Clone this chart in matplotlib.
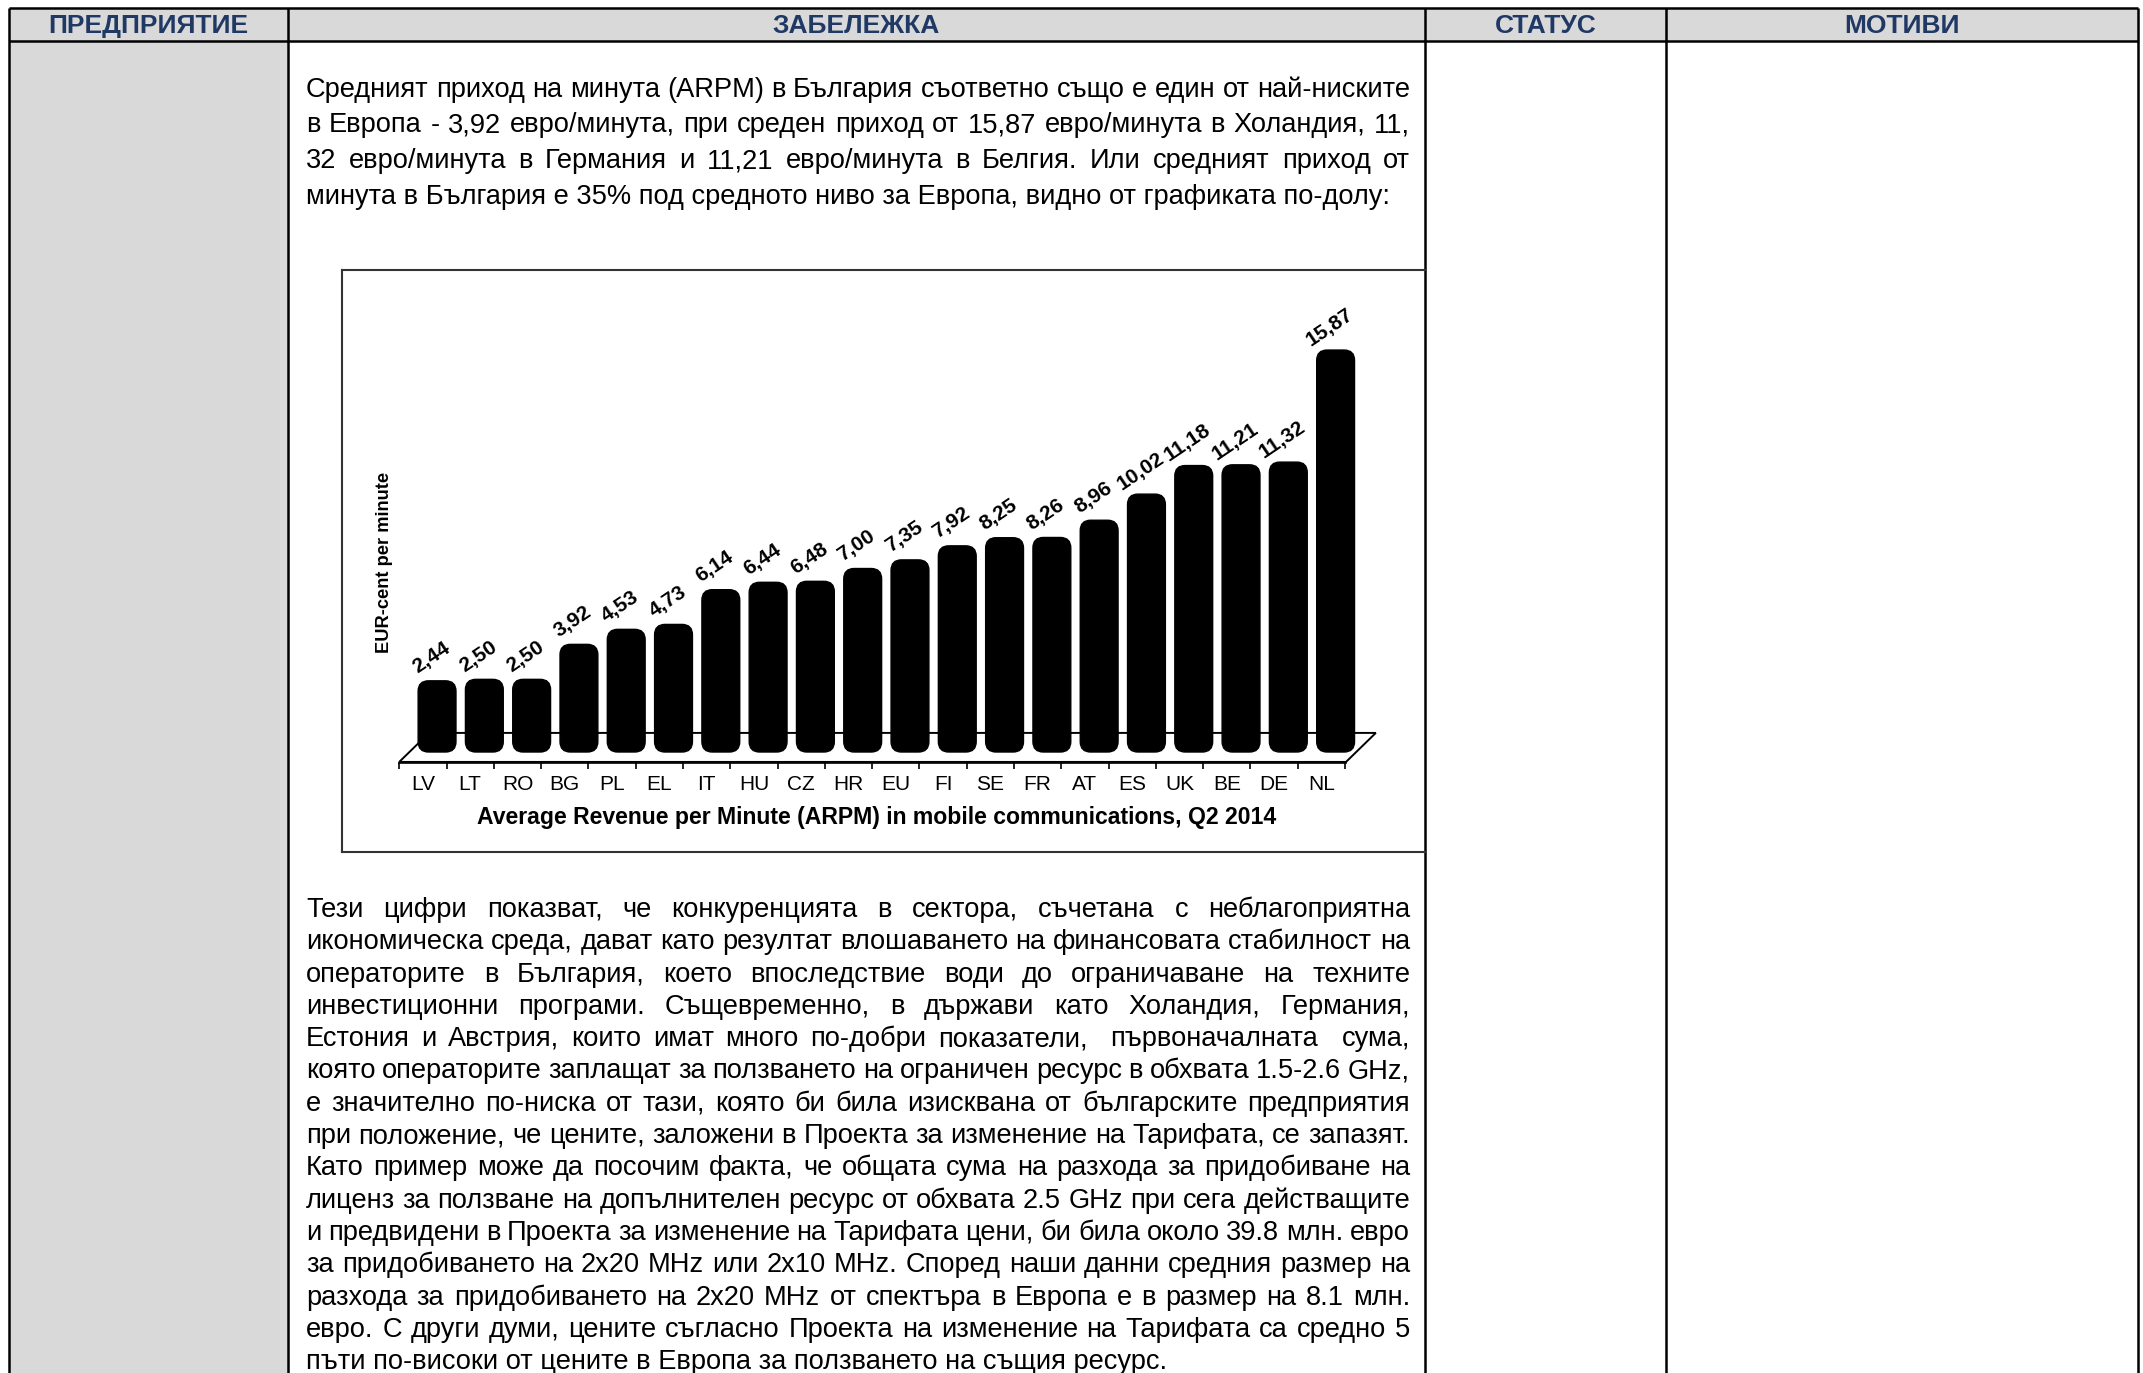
import numpy as np
import matplotlib
matplotlib.use("Agg")
import matplotlib.pyplot as plt
from matplotlib.patches import FancyBboxPatch, Polygon, Rectangle

plt.rcParams['font.family'] = ['Liberation Sans', 'DejaVu Sans']

# ---- data ----
headers = ["ПРЕДПРИЯТИЕ", "ЗАБЕЛЕЖКА", "СТАТУС", "МОТИВИ"]

countries = ["LV", "LT", "RO", "BG", "PL", "EL", "IT", "HU", "CZ", "HR",
             "EU", "FI", "SE", "FR", "AT", "ES", "UK", "BE", "DE", "NL"]
arpm = [2.44, 2.50, 2.50, 3.92, 4.53, 4.73, 6.14, 6.44, 6.48, 7.00,
        7.35, 7.92, 8.25, 8.26, 8.96, 10.02, 11.18, 11.21, 11.32, 15.87]

chart_xlabel = "Average Revenue per Minute (ARPM) in mobile communications, Q2 2014"
chart_ylabel = "EUR-cent per minute"

para1 = [
    "Средният приход на минута (ARPM) в България съответно също е един от най-ниските",
    "в Европа - 3,92 евро/минута, при среден приход от 15,87 евро/минута в Холандия, 11,",
    "32 евро/минута в Германия и 11,21 евро/минута в Белгия. Или средният приход от",
    "минута в България е 35% под средното ниво за Европа, видно от графиката по-долу:",
]
para2 = [
    "Тези цифри показват, че конкуренцията в сектора, съчетана с неблагоприятна",
    "икономическа среда, дават като резултат влошаването на финансовата стабилност на",
    "операторите в България, което впоследствие води до ограничаване на техните",
    "инвестиционни програми. Същевременно, в държави като Холандия, Германия,",
    "Естония и Австрия, които имат много по-добри показатели,  първоначалната  сума,",
    "която операторите заплащат за ползването на ограничен ресурс в обхвата 1.5-2.6 GHz,",
    "е значително по-ниска от тази, която би била изисквана от българските предприятия",
    "при положение, че цените, заложени в Проекта за изменение на Тарифата, се запазят.",
    "Като пример може да посочим факта, че общата сума на разхода за придобиване на",
    "лиценз за ползване на допълнителен ресурс от обхвата 2.5 GHz при сега действащите",
    "и предвидени в Проекта за изменение на Тарифата цени, би била около 39.8 млн. евро",
    "за придобиването на 2x20 MHz или 2x10 MHz. Според наши данни средния размер на",
    "разхода за придобиването на 2x20 MHz от спектъра в Европа е в размер на 8.1 млн.",
    "евро. С други думи, цените съгласно Проекта на изменение на Тарифата са средно 5",
    "пъти по-високи от цените в Европа за ползването на същия ресурс.",
]

# ---- page ----
W, H = 2143, 1373
fig = plt.figure(figsize=(W / 100, H / 100), dpi=100)
page = fig.add_axes([0, 0, 1, 1])
page.set_xlim(0, W)
page.set_ylim(H, 0)
page.axis('off')
renderer = fig.canvas.get_renderer()


def text_width(s, size, **kw):
    t = page.text(0, 0, s, fontsize=size, **kw)
    w = t.get_window_extent(renderer).width
    t.remove()
    return w


def fit_size(s, target, **kw):
    return 20 * target / text_width(s, 20, **kw)


cols = [9, 288, 1425, 1666, 2138]
head_top, head_bot = 8, 41
navy = '#1F3864'
gray = '#D9D9D9'

page.add_patch(Rectangle((cols[0], head_top), cols[-1] - cols[0], head_bot - head_top,
                         fc=gray, ec='none'))
page.add_patch(Rectangle((cols[0], head_bot), cols[1] - cols[0], H - head_bot,
                         fc=gray, ec='none'))
for yy in [head_top, head_bot]:
    page.plot([cols[0], cols[-1]], [yy, yy], color='black', lw=1.8, solid_capstyle='butt')
for xx in cols:
    page.plot([xx, xx], [head_top, H], color='black', lw=1.8, solid_capstyle='butt')

hsize = fit_size(headers[0], 200, fontweight='bold')
for k, h in enumerate(headers):
    page.text((cols[k] + cols[k + 1]) / 2, 33, h, fontsize=hsize, fontweight='bold',
              color=navy, ha='center', va='baseline')

# ---- justified paragraphs ----
x_left, x_right = 306, 1410
body = fit_size(para1[-1], 1084)


def justify(lines, base0, step):
    for k, line in enumerate(lines):
        y = base0 + k * step
        if k == len(lines) - 1:
            page.text(x_left, y, line, fontsize=body, va='baseline')
            continue
        words = line.split(' ')
        widths = [text_width(w, body) if w else 0 for w in words]
        gap = (x_right - x_left - sum(widths)) / (len(words) - 1)
        x = x_left
        for w, wd in zip(words, widths):
            if w:
                page.text(x, y, w, fontsize=body, va='baseline')
            x += wd + gap


justify(para1, 97, 35.5)
justify(para2, 917, 32.3)

# ---- embedded chart ----
cl, cr, ct, cb = 342, 1425, 270, 852
ax = fig.add_axes([cl / W, 1 - cb / H, (cr - cl) / W, (cb - ct) / H])
ax.set_facecolor('none')
ax.set_xlim(-2.01, 20.89)
ax.set_ylim(-4.51, 19.12)
ax.set_xticks([])
ax.set_yticks([])
for s in ['left', 'top', 'bottom']:
    ax.spines[s].set_color('#333333')
    ax.spines[s].set_linewidth(1.5)
ax.spines['right'].set_visible(False)

n = len(countries)
idx = np.arange(n)

# floor slab
front, back = -0.853, 0.325
ax.add_patch(Polygon([(-0.8, front), (n - 0.78, front), (n - 0.15, back), (-0.17, back)],
                     closed=True, fc='white', ec='black', lw=1.4, zorder=1))
ax.plot([-0.8, n - 0.78], [front - 0.06, front - 0.06], color='black', lw=1.2, zorder=1)
ax.vlines(np.arange(-1, n) + 0.2, front - 0.3, front, color='black', lw=1.2, zorder=1)

# bars
bw = 0.8
for i, v in zip(idx, arpm):
    ax.add_patch(FancyBboxPatch((i - bw / 2, -0.45), bw, v + 0.45,
                                boxstyle='round,pad=0,rounding_size=0.22',
                                mutation_aspect=1.92, fc='black', ec='black',
                                lw=1, zorder=2))
    ax.annotate(f"{v:.2f}".replace('.', ','), (i, v), xytext=(-6, 23),
                textcoords='offset pixels', rotation=34, ha='center', va='center',
                fontsize=15, fontweight='bold', zorder=3)

for i, c in zip(idx, countries):
    ax.text(i - 0.3, -1.75, c, ha='center', va='center', fontsize=15)

ax.text(9.3, -3.09, chart_xlabel, ha='center', va='center', fontweight='bold',
        fontsize=fit_size(chart_xlabel, 802, fontweight='bold'))
ax.text(-1.12, 7.23, chart_ylabel, ha='center', va='center', rotation=90,
        fontweight='bold', fontsize=fit_size(chart_ylabel, 181, fontweight='bold'))

fig.savefig("out.png", dpi=100)
